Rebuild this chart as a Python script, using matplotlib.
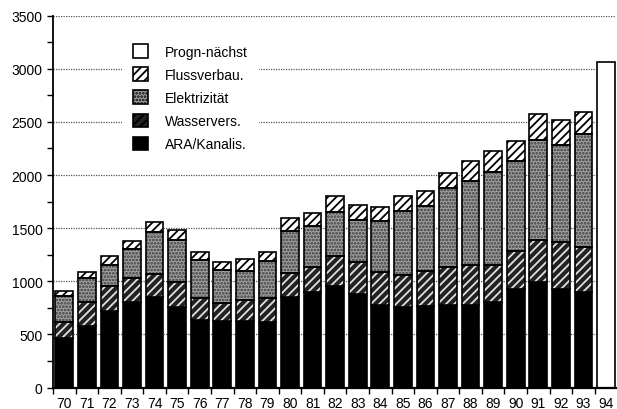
import matplotlib.pyplot as plt
from matplotlib.patches import Patch
from matplotlib.ticker import MultipleLocator

plt.rcParams['font.family'] = ['Liberation Sans', 'DejaVu Sans']
plt.rcParams['hatch.linewidth'] = 1.3

years = ['70', '71', '72', '73', '74', '75', '76', '77', '78', '79', '80', '81',
         '82', '83', '84', '85', '86', '87', '88', '89', '90', '91', '92', '93', '94']

# values per category, last year (94) is only the forecast
ara = [470, 577, 718, 802, 849, 755, 639, 624, 624, 614, 852, 896,
       959, 881, 780, 755, 771, 777, 777, 808, 928, 996, 928, 902, 0]
wasser = [150, 225, 241, 229, 217, 241, 201, 172, 200, 226, 224, 236,
          276, 304, 305, 304, 329, 355, 376, 345, 354, 393, 439, 418, 0]
elektro = [245, 226, 198, 273, 395, 395, 360, 307, 273, 348, 400, 391,
           414, 395, 480, 602, 611, 743, 793, 872, 853, 940, 918, 1066, 0]
fluss = [40, 60, 81, 78, 100, 94, 79, 76, 113, 91, 117, 122,
         156, 138, 131, 144, 138, 141, 186, 204, 182, 242, 232, 204, 0]
prognose = [0] * 24 + [3060]


def main():
    fig = plt.figure(figsize=(6.17, 4.10), dpi=100)
    ax = fig.add_axes([0.0859, 0.0522, 0.912, 0.9073])

    x = list(range(len(years)))
    w = 0.78
    b1 = ara
    b2 = [a + b for a, b in zip(b1, wasser)]
    b3 = [a + b for a, b in zip(b2, elektro)]

    ax.bar(x, ara, w, color='black', edgecolor='black', lw=1.2, zorder=3)
    # Wasservers: dark with light stripes
    ax.bar(x, wasser, w, bottom=b1, color='#222222', edgecolor='#e0e0e0',
           hatch='////', lw=0, zorder=3)
    ax.bar(x, wasser, w, bottom=b1, fill=False, edgecolor='black',
           lw=1.2, zorder=4)
    ax.bar(x, elektro, w, bottom=b2, color='#a0a0a0', edgecolor='#3a3a3a',
           hatch='.....', lw=0, zorder=3)
    ax.bar(x, elektro, w, bottom=b2, fill=False, edgecolor='black',
           lw=1.2, zorder=4)
    ax.bar(x, fluss, w, bottom=b3, color='white', edgecolor='black',
           hatch='////', lw=1.2, zorder=3)
    ax.bar(x, prognose, w, color='white', edgecolor='black', lw=1.2, zorder=3)

    ax.set_ylim(0, 3500)
    ax.set_xlim(-0.49, 24.43)
    ax.yaxis.set_major_locator(MultipleLocator(500))
    ax.yaxis.set_minor_locator(MultipleLocator(250))
    ax.grid(axis='y', linestyle=(0, (1, 1)), color='#555555', lw=0.9, zorder=1)

    ax.set_xticks(x)
    ax.set_xticklabels(years)
    ax.set_xticks([i + 0.5 for i in range(-1, 24)], minor=True)
    ax.tick_params(axis='x', which='major', length=0, labelsize=10, pad=6)
    ax.tick_params(axis='x', which='minor', length=4, width=1, direction='out')
    ax.tick_params(axis='y', which='both', direction='out', length=4,
                   width=1, labelsize=10)

    for s in ['top', 'right']:
        ax.spines[s].set_visible(False)
    ax.spines['left'].set_linewidth(1.3)
    ax.spines['bottom'].set_linewidth(1.6)
    ax.spines['bottom'].set_zorder(5)

    handles = [
        Patch(facecolor='white', edgecolor='black', lw=1.2),
        Patch(facecolor='white', edgecolor='black', hatch='////', lw=1.2),
        Patch(facecolor='#a0a0a0', edgecolor='black', hatch='.....', lw=1.2),
        Patch(facecolor='#222222', edgecolor='black', hatch='////', lw=1.2),
        Patch(facecolor='black', edgecolor='black', lw=1.2),
    ]
    labels = ['Progn-nächst', 'Flussverbau.', 'Elektrizität',
              'Wasservers.', 'ARA/Kanalis.']
    leg = ax.legend(handles, labels, loc='upper left',
                    bbox_to_anchor=(0.1226, 0.953), borderaxespad=0,
                    frameon=True, fancybox=False, edgecolor='none',
                    facecolor='white', framealpha=1, fontsize=10,
                    handlelength=1.1, handleheight=1.1, handletextpad=1.2,
                    labelspacing=0.63, borderpad=0.8)
    leg.set_zorder(6)

    fig.savefig('out.png', dpi=100)


if __name__ == '__main__':
    main()
